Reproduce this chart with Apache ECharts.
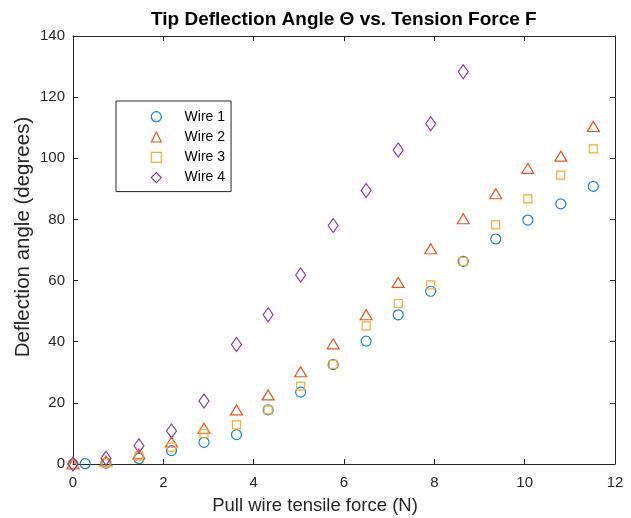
<!DOCTYPE html>
<html>
<head>
<meta charset="utf-8">
<script src="https://cdn.jsdelivr.net/npm/echarts@6/dist/echarts.min.js"></script>
<style>
html,body{margin:0;padding:0;background:#fff;}
#chart{width:631px;height:518px;}
</style>
</head>
<body>
<div id="chart"></div>
<script>
// ---- data ----
const forceX = [0, 0.73, 1.46, 2.18, 2.9, 3.62, 4.32, 5.04, 5.76, 6.49, 7.2, 7.92, 8.64, 9.36, 10.07, 10.8, 11.52];
const wire1X = [0, 0.27, 0.73, 1.46, 2.18, 2.9, 3.62, 4.32, 5.04, 5.76, 6.49, 7.2, 7.92, 8.64, 9.36, 10.07, 10.8, 11.52];
const wire1 = [0, 0.1, 0.3, 1.8, 4.4, 7.1, 9.6, 17.7, 23.5, 32.5, 40.2, 48.8, 56.5, 66.3, 73.6, 79.8, 85.1, 90.8];
const wire2 = [0, 1.0, 3.3, 7.2, 11.7, 17.7, 22.6, 30.2, 39.3, 48.8, 59.4, 70.4, 80.2, 88.4, 96.7, 100.7, 110.4];
const wire3 = [0, 0.4, 2.6, 5.5, 9.9, 12.8, 17.7, 25.5, 32.6, 45.2, 52.5, 58.6, 66.3, 78.2, 86.7, 94.5, 103.1];
const wire4 = [0, 1.9, 6.0, 10.8, 20.6, 39.1, 48.8, 61.8, 78.0, 89.5, 102.7, 111.3, 128.3];
const seriesNames = ['Wire 1', 'Wire 2', 'Wire 3', 'Wire 4'];
const xTicks = [0, 2, 4, 6, 8, 10, 12];
const yTicks = [0, 20, 40, 60, 80, 100, 120, 140];

const titleText = 'Tip Deflection Angle \u0398 vs. Tension Force F';
const xLabel = 'Pull wire tensile force (N)';
const yLabel = 'Deflection angle (degrees)';

const colors = ['#1a82cf', '#e05a26', '#f0b030', '#8a3d9c'];
const axisColor = '#262626';
const font = 'Liberation Sans, Arial, Helvetica, sans-serif';

function pairs(xs, ys) { return ys.map((v, i) => [xs[i], v]); }

const chart = echarts.init(document.getElementById('chart'), null, {renderer: 'canvas'});

const axisCommon = {
  axisLine: {show: true, onZero: false, lineStyle: {color: axisColor, width: 1}},
  axisTick: {show: true, inside: true, length: 5, lineStyle: {color: axisColor, width: 1}},
  splitLine: {show: false}
};

function hollow(i, symbol, size) {
  return {
    name: seriesNames[i],
    type: 'scatter',
    symbol: symbol,
    symbolSize: size,
    itemStyle: {color: 'rgba(255,255,255,0)', borderColor: colors[i], borderWidth: 1.2, opacity: 1},
    emphasis: {disabled: true},
    xAxisIndex: 0, yAxisIndex: 0
  };
}

const s1 = hollow(0, 'circle', 10); s1.data = pairs(wire1X, wire1);
const s2 = hollow(1, 'triangle', [12, 10]); s2.data = pairs(forceX, wire2);
const s3 = hollow(2, 'rect', 8); s3.data = pairs(forceX, wire3);
const s4 = hollow(3, 'diamond', [10, 14]); s4.data = pairs(forceX, wire4);

chart.setOption({
  backgroundColor: '#ffffff',
  animation: false,
  title: {
    text: titleText,
    left: 151, top: 10, padding: 0,
    textStyle: {fontFamily: font, fontSize: 19, fontWeight: 'bold', color: '#000'}
  },
  grid: {left: 73, right: 16, top: 36, bottom: 54, containLabel: false},
  legend: {
    left: 116, top: 101,
    orient: 'vertical',
    padding: [8.7, 6, 7, 34.7],
    itemWidth: 10, itemHeight: 10, itemGap: 6.3,
    borderColor: axisColor, borderWidth: 1,
    backgroundColor: '#fff',
    itemStyle: {borderWidth: 1.2},
    textStyle: {fontFamily: font, fontSize: 14, color: '#000', padding: [0, 0, 0, 18.3]},
    data: [
      {name: 'Wire 1', icon: 'circle'},
      {name: 'Wire 2', icon: 'triangle'},
      {name: 'Wire 3', icon: 'rect'},
      {name: 'Wire 4', icon: 'diamond'}
    ]
  },
  xAxis: [
    Object.assign({}, axisCommon, {
      type: 'value', position: 'bottom', min: xTicks[0], max: xTicks[xTicks.length - 1], interval: 2,
      axisLabel: {show: true, margin: 11, fontFamily: font, fontSize: 15, color: axisColor}
    }),
    Object.assign({}, axisCommon, {
      type: 'value', position: 'top', min: 0, max: 12, interval: 2,
      axisLabel: {show: false}
    })
  ],
  yAxis: [
    Object.assign({}, axisCommon, {
      type: 'value', position: 'left', min: yTicks[0], max: yTicks[yTicks.length - 1], interval: 20,
      axisLabel: {show: true, margin: 8, fontFamily: font, fontSize: 15, color: axisColor}
    }),
    Object.assign({}, axisCommon, {
      type: 'value', position: 'right', min: 0, max: 140, interval: 20,
      axisLabel: {show: false}
    })
  ],
  graphic: [
    {type: 'text', x: 315, y: 506, style: {text: xLabel, fontFamily: font, fontSize: 18.5, fill: axisColor, textAlign: 'center', textVerticalAlign: 'middle'}},
    {type: 'text', x: 23, y: 237, rotation: Math.PI / 2, style: {text: yLabel, fontFamily: font, fontSize: 20.5, fill: axisColor, textAlign: 'center', textVerticalAlign: 'middle'}}
  ],
  series: [s1, s2, s3, s4]
});
</script>
</body>
</html>
